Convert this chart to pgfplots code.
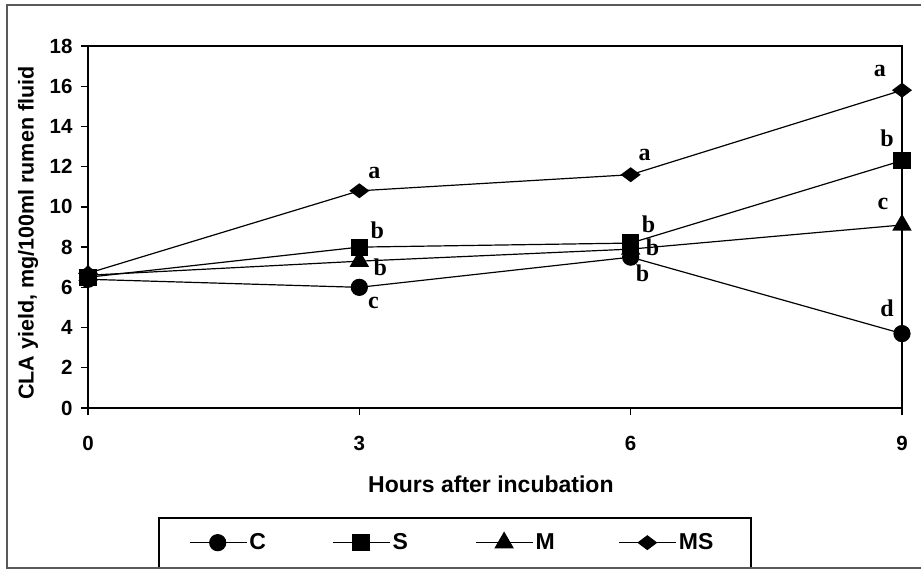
\documentclass[border=0pt]{standalone}
\usepackage{pgfplots}
\pgfplotsset{compat=1.18}
\usepackage{fontspec}
\setmainfont{Liberation Sans}
\newfontfamily\letterfont{Liberation Serif}

\pgfplotstableread{
h   C    S    M    MS
0   6.4  6.5  6.6  6.7
3   6.0  8.0  7.3  10.8
6   7.5  8.2  7.9  11.6
9   3.7  12.3 9.1  15.8
}\claData

\tikzset{sig/.style={font=\letterfont\fontsize{24}{28}\selectfont\bfseries, inner sep=0pt, anchor=center}}

\begin{document}
\begin{tikzpicture}[x=1pt,y=1pt]
\useasboundingbox (0,0) rectangle (921,570);
\fill[white] (0,0) rectangle (921,570);
\begin{axis}[
  at={(88pt,162pt)}, anchor=south west,
  scale only axis, width=814pt, height=362pt,
  xmin=0, xmax=9, ymin=0, ymax=18,
  xtick={0,3,6,9}, ytick={0,2,...,18},
  tick pos=left, tick align=outside, major tick length=7pt,
  axis line style={line width=1.3pt},
  every tick/.style={line width=1.3pt, black},
  ticklabel style={font=\fontsize{20.5}{24}\selectfont\bfseries},
  xticklabel style={yshift=-18pt},
  yticklabel style={xshift=-5pt},
  /pgf/number format/assume math mode=true,
  xlabel={Hours after incubation},
  ylabel={CLA yield, mg/100ml rumen fluid},
  xlabel style={font=\fontsize{23}{27}\selectfont\bfseries,
    at={(axis description cs:0.495,-0.210)}, anchor=center},
  ylabel style={font=\fontsize{21.5}{25}\selectfont\bfseries,
    at={(axis description cs:-0.0737,0.483)}, anchor=center, rotate=0},
  clip=false,
  legend columns=4,
  legend style={at={(axis description cs:0.4509,-0.372)}, anchor=center,
    draw=black, line width=1.6pt, inner xsep=30pt, inner ysep=14pt,
    font=\fontsize{23}{27}\selectfont\bfseries,
    /tikz/every even column/.append style={column sep=0pt}},
  legend image code/.code={%
    \draw[mark repeat=2,mark phase=2] plot coordinates {(0pt,0pt) (28pt,0pt) (57pt,0pt)};},
  every axis plot/.append style={black, line width=1.2pt},
]
\addplot[mark=*, mark size=8pt] table[x=h, y=C] {\claData};
\addlegendentry{\makebox[81pt][l]{C}}
\addplot[mark=square*, mark size=8pt] table[x=h, y=S] {\claData};
\addlegendentry{\makebox[81pt][l]{S}}
\addplot[mark=triangle*, mark size=10pt] table[x=h, y=M] {\claData};
\addlegendentry{\makebox[81pt][l]{M}}
\addplot[mark=diamond*, mark size=9pt, mark options={rotate=90}] table[x=h, y=MS] {\claData};
\addlegendentry{\makebox[40pt][l]{MS}}

% significance letters
\node[sig, xshift=15pt, yshift=18pt]  at (axis cs:3,10.8) {a};
\node[sig, xshift=14pt, yshift=20pt]  at (axis cs:6,11.6) {a};
\node[sig, xshift=-22pt, yshift=19pt] at (axis cs:9,15.8) {a};
\node[sig, xshift=18pt, yshift=17pt]  at (axis cs:3,8.0) {b};
\node[sig, xshift=21pt, yshift=-6pt]  at (axis cs:3,7.3) {b};
\node[sig, xshift=14pt, yshift=-16pt] at (axis cs:3,6.0) {c};
\node[sig, xshift=18pt, yshift=19pt]  at (axis cs:6,8.2) {b};
\node[sig, xshift=22pt, yshift=2pt]   at (axis cs:6,7.9) {b};
\node[sig, xshift=12pt, yshift=-16pt] at (axis cs:6,7.5) {b};
\node[sig, xshift=-15pt, yshift=22pt] at (axis cs:9,12.3) {b};
\node[sig, xshift=-19pt, yshift=21pt] at (axis cs:9,9.1) {c};
\node[sig, xshift=-15pt, yshift=25pt] at (axis cs:9,3.7) {d};
\end{axis}
\draw[black!65, line width=1.6pt] (7,2) rectangle (935,565);
\end{tikzpicture}
\end{document}
